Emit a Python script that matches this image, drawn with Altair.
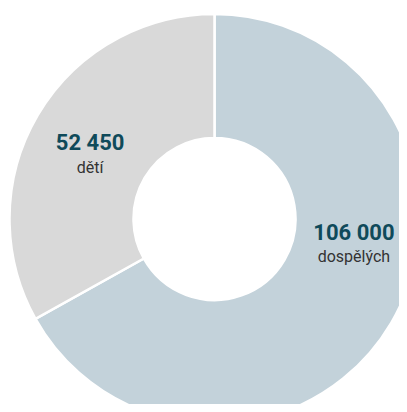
import altair as alt
import pandas as pd

categories = ["dospělých", "dětí"]
values = [106000, 52450]
value_labels = ["106 000", "52 450"]
colors = ["#c3d2da", "#d9d9d9"]

df = pd.DataFrame({
    "cat": categories,
    "value": values,
    "vlabel": value_labels,
    "order": list(range(len(categories))),
})

CX, CY = 206.5, 211
R_OUT, R_IN = 205, 81
R_LBL = 146

arcs = alt.Chart(df).mark_arc(radius=R_OUT, radius2=R_IN, stroke="white", strokeWidth=2.5).encode(
    theta=alt.Theta("value:Q", stack=True),
    order=alt.Order("order:Q"),
    x=alt.value(CX),
    y=alt.value(CY),
    color=alt.Color("cat:N", scale=alt.Scale(domain=categories, range=colors), legend=None),
)

lbl_base = alt.Chart(df).transform_stack(
    stack="value", groupby=[], as_=["s0", "s1"], sort=[alt.SortField("order")]
).transform_joinaggregate(total="sum(value)").transform_calculate(
    frac="(datum.s0 + datum.s1) / 2 / datum.total"
)

def labels(cat, dx, dy_num, dy_name):
    b = lbl_base.transform_filter(alt.datum.cat == cat).encode(
        theta=alt.Theta("frac:Q", scale=alt.Scale(domain=[0, 1]), stack=False),
        x=alt.value(CX),
        y=alt.value(CY),
    )
    num = b.mark_text(radius=R_LBL, dx=dx, dy=dy_num, font="Roboto", fontSize=22,
                      fontWeight="bold", color="#0f4a5a").encode(text="vlabel:N")
    name = b.mark_text(radius=R_LBL, dx=dx, dy=dy_name, font="Roboto", fontSize=16,
                       color="#333333").encode(text="cat:N")
    return num + name

chart = alt.layer(
    arcs,
    labels("dětí", 1.5, -2, 23),
    labels("dospělých", 13.5, -60, -36),
).resolve_scale(theta="independent").properties(
    width=391, height=396, padding=0, autosize=alt.AutoSizeParams(type="none")
).configure_view(stroke=None)

chart.save("out.html", embed_options={"renderer": "svg", "actions": False})
